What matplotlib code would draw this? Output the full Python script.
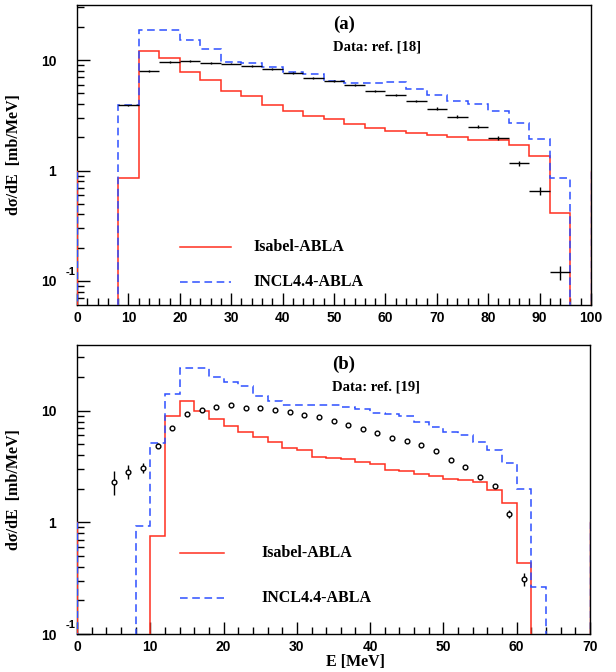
import numpy as np
import matplotlib
matplotlib.use("Agg")
import matplotlib.pyplot as plt
from matplotlib.ticker import FixedLocator, LogLocator, FixedFormatter, MultipleLocator
import matplotlib.transforms as mtrans

# ---------------- data: panel (a) ----------------
edges_a = np.arange(8, 97, 4)
isabel_a = [0.85, 12.2, 10.5, 7.85, 6.56, 5.26, 4.68, 3.91, 3.47, 3.13, 2.92,
            2.63, 2.45, 2.29, 2.18, 2.11, 2.0, 1.90, 1.87, 1.70, 1.35, 0.41]
incl_a = [3.88, 18.9, 18.9, 15.3, 12.5, 9.6, 9.4, 8.65, 7.85, 7.5, 6.47,
          6.2, 6.2, 6.3, 5.44, 4.81, 4.27, 3.99, 3.47, 2.72, 1.93, 0.86]
data_a = [3.88, 7.9, 9.6, 9.8, 9.4, 9.3, 8.77, 8.35, 7.6, 6.83, 6.47,
          5.99, 5.26, 4.84, 4.27, 3.64, 3.06, 2.5, 1.98, 1.16, 0.65, 0.12]
data_a_relerr = [0.02, 0.02, 0.02, 0.02, 0.02, 0.02, 0.02, 0.02, 0.02, 0.02, 0.02,
                 0.02, 0.02, 0.02, 0.025, 0.03, 0.03, 0.035, 0.04, 0.06, 0.08, 0.15]

# ---------------- data: panel (b) ----------------
edges_b = np.arange(8, 65, 2)
isabel_b = [0.0, 0.75, 8.9, 12.1, 9.86, 8.47, 7.33, 6.5, 5.8, 5.3, 4.61, 4.45,
            3.83, 3.8, 3.7, 3.5, 3.31, 2.94, 2.88, 2.71, 2.61, 2.44, 2.39,
            2.31, 1.94, 1.50, 0.43, 0.0]
incl_b = [0.92, 5.1, 14.1, 23.9, 23.9, 20.1, 18.1, 16.6, 13.5, 12.1, 11.3, 11.3,
          11.3, 11.3, 10.7, 10.35, 9.5, 9.3, 8.9, 8.0, 7.2, 6.5, 6.1,
          5.2, 4.45, 3.4, 1.98, 0.265]
data_b_E = [5, 7, 9, 11, 13, 15, 17, 19, 21, 23, 25, 27, 29, 31, 33, 35, 37,
            39, 41, 43, 45, 47, 49, 51, 53, 55, 57, 59, 61]
data_b = [2.31, 2.84, 3.04, 4.84, 6.98, 9.33, 10.2, 10.7, 11.3, 10.6, 10.6,
          10.1, 9.66, 9.2, 8.7, 8.13, 7.38, 6.88, 6.38, 5.7, 5.41, 4.94, 4.36,
          3.62, 3.15, 2.56, 2.12, 1.2, 0.31]
data_b_lo = [0.55, 0.4, 0.3, 0.25, 0.2, 0.2, 0.2, 0.2, 0.2, 0.2, 0.2, 0.2, 0.2,
             0.2, 0.2, 0.2, 0.15, 0.15, 0.15, 0.15, 0.12, 0.12, 0.12, 0.12,
             0.1, 0.1, 0.1, 0.1, 0.04]
data_b_hi = [0.6, 0.45, 0.35, 0.25, 0.2, 0.2, 0.2, 0.2, 0.2, 0.2, 0.2, 0.2, 0.2,
             0.2, 0.2, 0.2, 0.15, 0.15, 0.15, 0.15, 0.12, 0.12, 0.12, 0.12,
             0.1, 0.1, 0.1, 0.1, 0.04]

labels = ["Isabel-ABLA", "INCL4.4-ABLA"]
panel_tags = ["(a)", "(b)"]
data_refs = ["Data: ref. [18]", "Data: ref. [19]"]
ytick_vals = [0.1, 1, 10]
ytick_labels = ["10", "1", "10"]
exp_label = "-1"
edge_level = 1.0  # ROOT artefact: edge lines at frame borders up to y=1

RED = "#ff2f1f"
BLUE = "#2e4fff"
SERIF = "Liberation Serif"
SANS = "Liberation Sans"

fig = plt.figure(figsize=(6.16, 6.72), dpi=100)
W, H = 616, 672

def ax_at(l, t, r, b):
    return fig.add_axes([l / W, 1 - b / H, (r - l) / W, (b - t) / H])

ax_a = ax_at(77, 5, 591, 305)
ax_b = ax_at(77, 345, 590, 634)

def style(ax, xmax, ylim, xmaj, xmin_step):
    ax.set_yscale("log")
    ax.set_xlim(0, xmax)
    ax.set_ylim(*ylim)
    ax.xaxis.set_major_locator(MultipleLocator(xmaj))
    ax.xaxis.set_minor_locator(MultipleLocator(xmin_step))
    ax.yaxis.set_major_locator(FixedLocator(ytick_vals))
    ax.yaxis.set_major_formatter(FixedFormatter(ytick_labels))
    ax.yaxis.set_minor_locator(LogLocator(base=10, subs=np.arange(2, 10)))
    ax.yaxis.set_minor_formatter(plt.NullFormatter())
    ax.tick_params(which="both", direction="in", top=False, right=False,
                   width=1, color="black")
    ax.tick_params(which="major", length=9, labelsize=10)
    ax.tick_params(axis="x", which="major", pad=4)
    ax.tick_params(axis="y", which="major", pad=15)
    ax.tick_params(which="minor", length=5)
    for lab in ax.get_xticklabels() + ax.get_yticklabels():
        lab.set_fontfamily(SANS)
        lab.set_fontweight("bold")
    for s in ax.spines.values():
        s.set_linewidth(1.0)
        s.set_color("black")
    ax.set_ylabel("dσ/dE  [mb/MeV]", fontfamily=SERIF, fontsize=11.5,
                  fontweight="bold")
    ax.yaxis.set_label_coords(-0.107, 0.5)
    tr = mtrans.blended_transform_factory(ax.transAxes, ax.transData)
    ax.text(-0.002, ytick_vals[0] * 10 ** 0.085, exp_label, transform=tr,
            fontfamily=SANS, fontweight="bold", fontsize=8, ha="right",
            va="center", clip_on=False)

def edges_art(ax, xmax, ylo):
    for xv in (0, xmax):
        ax.plot([xv, xv], [ylo, edge_level], color=RED, lw=1.0, zorder=3)
        ax.plot([xv, xv], [ylo, edge_level], color=BLUE, lw=1.0,
                dashes=(5, 3), zorder=3)

def legend(ax, x0, x1, xt, ys):
    ax.plot([x0, x1], [ys[0], ys[0]], transform=ax.transAxes, color=RED, lw=1.1)
    ax.plot([x0, x1], [ys[1], ys[1]], transform=ax.transAxes, color=BLUE,
            lw=1.1, dashes=(5, 3))
    for lab, y in zip(labels, ys):
        ax.text(xt, y, lab, transform=ax.transAxes, fontfamily=SERIF,
                fontweight="bold", fontsize=11.5, va="center")

# ---- panel (a)
ylim_a = (0.0606, 31.5)
style(ax_a, 100, ylim_a, 10, 2)
ax_a.stairs(isabel_a, edges_a, baseline=1e-4, color=RED, lw=1.1, zorder=4)
ax_a.stairs(incl_a, edges_a, baseline=1e-4, color=BLUE, lw=1.1,
            linestyle=(0, (5, 3)), zorder=5)
cent_a = 0.5 * (edges_a[:-1] + edges_a[1:])
ya = np.array(data_a)
ax_a.errorbar(cent_a, ya, xerr=2, yerr=ya * np.array(data_a_relerr), fmt="none",
              ecolor="black", elinewidth=1.0, capsize=0, zorder=6)
edges_art(ax_a, 100, 1e-4)
legend(ax_a, 0.2, 0.3, 0.343, [0.193, 0.077])
ax_a.text(0.498, 0.937, panel_tags[0], transform=ax_a.transAxes, fontfamily=SERIF,
          fontweight="bold", fontsize=13.5, va="center")
ax_a.text(0.498, 0.86, data_refs[0], transform=ax_a.transAxes, fontfamily=SERIF,
          fontweight="bold", fontsize=10.5, va="center")

# ---- panel (b)
ylim_b = (0.1, 38.8)
style(ax_b, 70, ylim_b, 10, 2)
ax_b.stairs(isabel_b, edges_b, baseline=1e-4, color=RED, lw=1.1, zorder=4)
ax_b.stairs(incl_b, edges_b, baseline=1e-4, color=BLUE, lw=1.1,
            linestyle=(0, (5, 3)), zorder=5)
ax_b.errorbar(data_b_E, data_b, yerr=[data_b_lo, data_b_hi], fmt="o", ms=3.4,
              mfc="white", mec="black", mew=1.0, ecolor="black",
              elinewidth=1.0, capsize=0, zorder=6)
edges_art(ax_b, 70, 1e-4)
legend(ax_b, 0.2, 0.286, 0.36, [0.28, 0.125])
ax_b.text(0.498, 0.933, panel_tags[1], transform=ax_b.transAxes, fontfamily=SERIF,
          fontweight="bold", fontsize=13.5, va="center")
ax_b.text(0.498, 0.853, data_refs[1], transform=ax_b.transAxes, fontfamily=SERIF,
          fontweight="bold", fontsize=10.5, va="center")

fig.text(355 / W, 1 - 662 / H, "E [MeV]", fontfamily=SERIF, fontweight="bold",
         fontsize=11.5, ha="center", va="center")

fig.savefig("out.png", dpi=100)
